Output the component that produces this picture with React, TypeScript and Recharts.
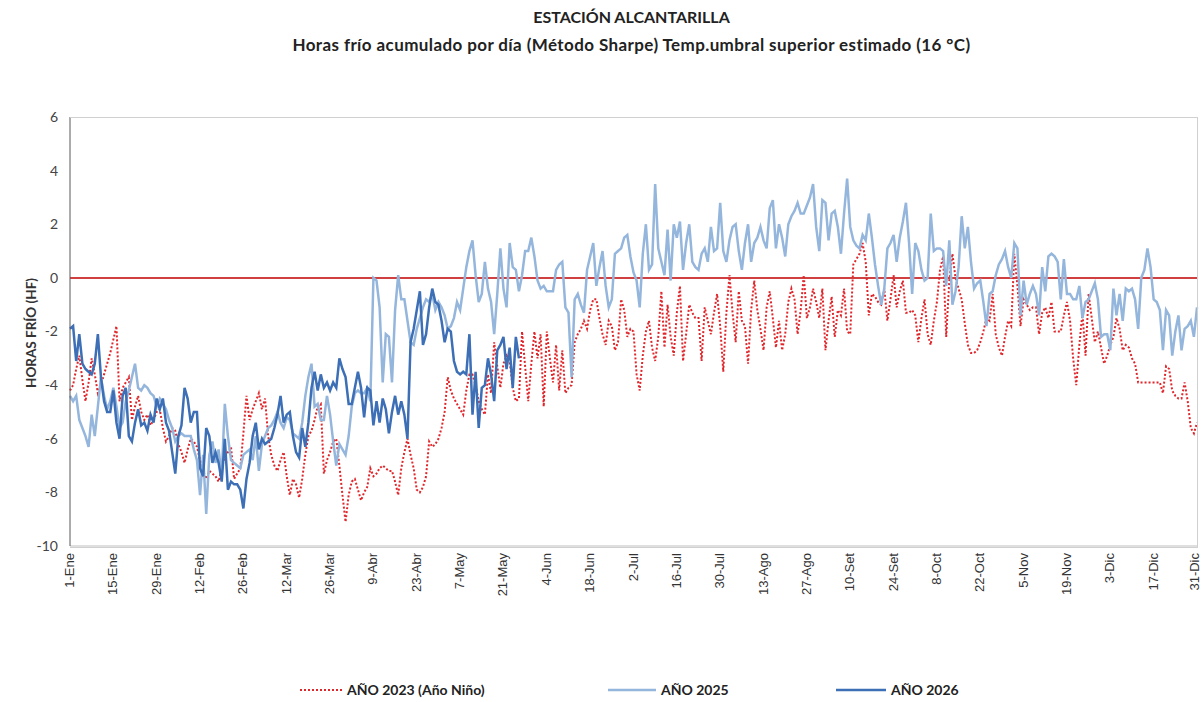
import React from "react";
import { LineChart, Line, XAxis, YAxis, ReferenceLine } from "recharts";

// etiquetas de dias (año de 365 dias)
const meses = ["Ene", "Feb", "Mar", "Abr", "May", "Jun", "Jul", "Ago", "Set", "Oct", "Nov", "Dic"];
const diasMes = [31, 28, 31, 30, 31, 30, 31, 31, 30, 31, 30, 31];
const etiquetas: string[] = meses.flatMap((m, i) =>
  Array.from({ length: diasMes[i] }, (_, d) => `${d + 1}-${m}`)
);

const yTicks = [-10, -8, -6, -4, -2, 0, 2, 4, 6];
const xTicks = [0, 14, 28, 42, 56, 70, 84, 98, 112, 126, 140, 154, 168, 182, 196, 210, 224, 238, 252, 266, 280, 294, 308, 322, 336, 350, 364];

// AÑO 2023 (Año Niño)
const anio2023 = [
  -4.2, -4.0, -3.4, -2.9, -3.8, -4.6, -3.9, -3.0, -3.6, -4.3,
  -4.0, -3.6, -3.2, -2.8, -2.3, -1.8, -4.6, -4.1, -3.9, -3.7,
  -5.3, -4.8, -4.4, -5.0, -5.3, -5.1, -5.5, -5.3, -5.0, -4.9,
  -5.6, -6.1, -5.9, -5.6, -5.7, -6.2, -6.5, -6.9, -6.4, -6.0,
  -6.1, -6.3, -6.8, -7.2, -7.5, -7.2, -7.3, -7.4, -7.6, -7.1,
  -6.7, -6.5, -6.3, -7.5, -7.3, -7.1, -5.8, -4.4, -5.3, -4.9,
  -4.6, -4.3, -4.9, -4.5, -5.9, -6.6, -7.0, -7.2, -6.8, -6.5,
  -7.4, -8.1, -7.5, -7.7, -8.2, -7.5, -6.6, -5.9, -5.7, -5.3,
  -4.8, -4.7, -7.3, -6.8, -6.5, -6.1, -6.0, -7.0, -8.1, -9.1,
  -8.1, -7.6, -7.5, -7.9, -8.3, -8.0, -7.8, -7.1, -7.4, -7.3,
  -7.1, -7.0, -7.1, -7.2, -7.2, -7.6, -8.1, -7.1, -6.5, -6.0,
  -6.6, -7.1, -7.9, -8.0, -7.8, -7.4, -6.1, -6.3, -6.2, -6.0,
  -5.6, -5.0, -3.7, -4.2, -4.5, -4.7, -4.9, -5.1, -4.2, -3.6,
  -3.6, -4.0, -4.6, -4.9, -5.1, -3.6, -4.3, -2.4, -3.3, -4.1,
  -3.2, -2.9, -3.1, -4.1, -4.6, -4.5, -2.0, -3.3, -4.6, -3.2,
  -2.0, -3.0, -2.1, -4.8, -2.0, -3.0, -3.9, -2.5, -4.2, -2.7,
  -4.3, -4.1, -4.0, -2.4, -2.1, -1.9, -1.6, -1.9, -1.2, -0.8,
  -0.8, -1.5, -2.1, -2.5, -1.6, -1.8, -2.7, -2.4, -0.8, -1.2,
  -2.2, -1.9, -2.0, -3.6, -4.2, -2.9, -2.0, -1.6, -2.6, -3.1,
  -2.2, -0.5, -2.6, -1.0, -2.2, -2.9, -1.3, -0.3, -3.1, -2.1,
  -1.0, -1.3, -1.5, -1.5, -3.1, -1.1, -1.6, -2.1, -1.3, -0.6,
  -1.8, -3.5, -1.3, 0.1, -1.3, -2.4, -0.5, -1.6, -1.8, -3.2,
  -1.2, -0.1, -1.2, -1.9, -2.7, -1.1, -0.5, -1.5, -2.6, -1.6,
  -2.7, -2.1, -0.9, -0.4, -0.8, -2.1, -1.2, 0.1, -1.5, -1.1,
  -0.4, -0.9, -1.5, -0.4, -2.7, -1.6, -0.7, -2.2, -1.2, -1.4,
  -0.4, -2.0, -2.1, 0.5, 0.7, 0.9, 1.3, 0.6, -1.4, -0.6,
  -0.7, -0.9, -1.0, -0.4, -1.6, -0.8, 0.1, -1.1, -0.5, -0.1,
  -1.3, -1.3, -1.2, -1.4, -2.4, -1.5, -0.8, -2.1, -2.5, -1.6,
  -0.9, 0.3, 0.8, -2.2, -0.1, 0.9, 0.0, -0.4, -0.8, -1.7,
  -2.5, -2.8, -2.8, -2.7, -2.4, -2.0, -1.5, -1.6, -0.6, -2.1,
  -2.6, -2.9, -2.2, -1.6, -1.8, 0.9, -0.3, -1.8, -0.8, -1.0,
  -1.2, -1.1, -1.1, -2.1, -1.3, -1.1, -1.5, -0.9, -2.0, -2.0,
  -2.0, -1.4, -0.9, -1.6, -3.0, -4.0, -2.5, -1.3, -2.9, -0.6,
  -1.5, -2.4, -2.0, -2.6, -3.2, -2.9, -2.5, -2.2, -1.5, -1.9,
  -2.7, -2.5, -2.6, -3.0, -3.2, -3.9, -3.9, -3.9, -3.9, -3.9,
  -3.9, -3.9, -3.9, -4.3, -3.3, -3.4, -4.2, -4.4, -4.5, -4.5,
  -3.9, -4.6, -5.6, -5.8, -5.4,
];

// AÑO 2025
const anio2025 = [
  -4.4, -4.6, -4.4, -5.3, -5.6, -5.9, -6.3, -5.1, -5.9, -4.8,
  -3.7, -4.4, -4.9, -4.6, -4.1, -4.8, -5.6, -5.4, -4.6, -4.2,
  -3.7, -3.2, -4.1, -4.2, -4.0, -4.1, -4.3, -4.4, -4.8, -4.5,
  -4.7, -4.9, -5.3, -5.6, -6.1, -5.9, -5.8, -5.9, -5.9, -5.9,
  -6.4, -6.8, -8.1, -6.6, -8.8, -6.6, -6.1, -6.9, -6.4, -7.4,
  -4.7, -5.9, -6.8, -6.9, -7.0, -7.1, -6.6, -6.5, -6.4, -6.8,
  -5.9, -7.2, -6.2, -5.9, -5.6, -5.5, -5.3, -5.0, -5.4, -5.6,
  -5.2, -5.3, -5.8, -5.9, -6.0, -5.4, -4.4, -3.7, -3.2, -4.8,
  -4.7, -5.3, -5.3, -4.4, -5.1, -6.1, -7.0, -6.2, -6.4, -6.6,
  -5.9, -4.8, -4.3, -4.2, -4.3, -4.3, -4.1, -4.6, 0.0, -0.1,
  -1.1, -3.9, -2.1, -2.2, -3.9, -1.2, 0.1, -0.8, -0.8, -1.6,
  -2.4, -2.5, -1.9, -1.5, -1.1, -0.8, -0.9, -0.6, -1.2, -0.9,
  -1.1, -1.4, -1.9, -1.8, -1.5, -0.9, -1.2, -0.4, 0.4, 1.0,
  1.4, 0.1, -0.9, -0.6, 0.6, -0.4, -0.9, -2.1, -0.6, 1.1,
  -0.4, -1.1, 1.3, 0.4, 0.3, -0.5, 0.1, 1.0, 1.0, 1.5,
  0.8, -0.1, -0.4, -0.3, -0.5, -0.5, -0.5, 0.3, 0.5, 0.6,
  -1.1, -1.3, -3.7, -0.8, -0.6, -1.0, -1.3, 0.3, 0.8, 1.3,
  -0.3, 0.4, 1.0, -0.3, -1.1, -0.8, 0.9, 1.0, 1.1, 1.5,
  1.6, 0.8, 0.2, -0.1, -1.1, 0.9, 2.0, 0.3, 0.5, 3.5,
  1.1, 0.6, 0.1, 1.8, -0.1, 2.0, 1.5, 2.1, 0.3, 1.3,
  2.0, 0.6, 0.4, 0.3, 0.9, 1.1, 0.6, 1.9, 1.0, 1.1,
  2.8, 1.0, 0.6, 1.4, 1.9, 2.0, 1.0, 0.3, 1.3, 2.0,
  0.6, 1.3, 1.5, 1.9, 1.4, 1.1, 2.6, 2.9, 1.1, 2.0,
  1.5, 0.8, 2.0, 2.3, 2.5, 2.8, 2.4, 2.4, 2.7, 3.0,
  3.5, 1.9, 1.0, 2.9, 2.8, 1.4, 2.4, 2.5, 1.9, 0.9,
  2.4, 3.7, 1.9, 1.4, 1.2, 1.1, 1.6, 1.4, 2.4, 1.5,
  0.5, -0.3, -1.0, -0.4, 1.1, 1.3, 1.6, 0.6, 1.5, 2.1,
  2.8, 1.3, -0.6, 1.3, 1.0, 0.3, -0.1, 0.0, 2.4, 1.0,
  1.1, 1.1, 1.0, -0.3, 1.4, -1.0, -0.5, 0.4, 2.3, 1.1,
  1.9, 0.6, -0.4, -0.2, -0.1, -0.9, -1.8, -0.6, -0.5, 0.1,
  0.5, 0.7, 1.0, 0.4, 0.0, 1.3, 1.1, -1.4, -0.1, -1.0,
  -0.6, -0.3, -0.6, -1.4, 0.4, -0.5, 0.8, 0.9, 0.8, 0.6,
  -0.8, 0.7, -0.6, -0.6, -0.8, -0.8, -0.3, -1.5, -0.9, -0.8,
  -0.5, -0.2, -0.8, -2.2, -2.1, -2.1, -2.7, -0.4, -1.4, -0.6,
  -1.6, -0.4, -0.5, -0.4, -0.8, -1.9, 0.0, 0.3, 1.1, 0.4,
  -0.8, -0.9, -1.2, -2.7, -1.2, -1.4, -2.9, -2.0, -1.4, -2.7,
  -1.9, -1.8, -1.6, -2.2, -1.1,
];

// AÑO 2026 (hasta fines de mayo)
const anio2026 = [
  -1.9, -1.8, -3.1, -2.1, -3.2, -3.4, -3.5, -3.6, -3.2, -2.1,
  -3.7, -4.6, -5.0, -5.0, -4.2, -5.4, -6.0, -4.4, -4.1, -5.9,
  -6.1, -5.4, -4.9, -5.5, -5.4, -5.7, -5.1, -5.4, -4.5, -4.9,
  -4.5, -5.4, -5.7, -6.5, -7.3, -5.9, -5.5, -4.1, -4.5, -5.4,
  -5.0, -5.0, -7.1, -7.4, -5.6, -5.9, -6.9, -6.5, -6.9, -7.6,
  -6.0, -7.9, -7.6, -7.7, -7.7, -7.9, -8.6, -7.5, -6.9, -5.9,
  -5.4, -6.4, -6.0, -6.2, -6.1, -6.0, -5.6, -5.1, -4.4, -5.4,
  -5.1, -5.0, -5.9, -6.5, -6.7, -5.6, -6.3, -5.4, -4.1, -3.5,
  -4.2, -3.6, -4.1, -3.9, -4.2, -3.9, -4.1, -3.0, -3.4, -3.7,
  -4.7, -4.7, -4.1, -3.5, -4.1, -5.2, -4.1, -4.2, -5.5, -4.6,
  -5.4, -4.5, -4.9, -5.8, -5.0, -4.4, -5.1, -4.6, -5.1, -6.0,
  -2.4, -1.9, -1.2, -0.5, -2.5, -2.1, -1.1, -0.4, -0.9, -1.0,
  -1.6, -2.4, -1.9, -2.0, -3.1, -3.5, -3.6, -3.5, -3.6, -2.1,
  -5.1, -3.5, -5.6, -4.1, -4.0, -3.0, -3.6, -4.6, -2.7, -2.5,
  -2.2, -3.4, -2.6, -4.1, -2.2, -3.0,
];

const data = etiquetas.map((label, i) => ({
  dia: i,
  label,
  a2023: anio2023[i] ?? null,
  a2025: anio2025[i] ?? null,
  a2026: anio2026[i] ?? null,
}));

const ROJO = "#e0262b";
const CELESTE = "#95b6dc";
const AZUL = "#3d6fb6";

const TickX = ({ x, y, payload }: any) => {
  const tx = payload.value === 364 ? x + 2 : x + 4;
  return (
    <text
      x={tx}
      y={y - 1}
      transform={`rotate(-90 ${tx} ${y - 1})`}
      textAnchor="end"
      fontSize={13}
      fontFamily="Liberation Sans, Arial, sans-serif"
      fill="#333"
    >
      {etiquetas[payload.value]}
    </text>
  );
};

const LegendItem = ({ color, dashed, text, left, lineW }: any) => (
  <div style={{ position: "absolute", left, top: 681, display: "flex", alignItems: "center" }}>
    <svg width={lineW} height={10} style={{ marginRight: 5 }}>
      <line
        x1={0}
        x2={lineW}
        y1={5}
        y2={5}
        stroke={color}
        strokeWidth={dashed ? 2 : 2.5}
        strokeDasharray={dashed ? "2 2" : undefined}
      />
    </svg>
    <span style={{ fontSize: 14, fontWeight: 700, color: "#222" }}>{text}</span>
  </div>
);

export default function App() {
  return (
    <div
      style={{
        position: "absolute",
        left: 0,
        top: 0,
        width: 1203,
        height: 702,
        background: "#fff",
        fontFamily: "Lato, 'Open Sans', sans-serif",
      }}
    >
      <div style={{ position: "absolute", top: 7, width: 1263, textAlign: "center", fontSize: 16, fontWeight: 700, color: "#222" }}>
        ESTACIÓN ALCANTARILLA
      </div>
      <div
        style={{
          position: "absolute",
          top: 34,
          width: 1263,
          textAlign: "center",
          fontSize: 17,
          letterSpacing: 0.4,
          fontWeight: 700,
          color: "#222",
        }}
      >
        Horas frío acumulado por día (Método Sharpe) Temp.umbral superior estimado (16 °C)
      </div>
      <div
        style={{
          position: "absolute",
          left: 31,
          top: 333,
          transform: "translate(-50%, -50%) rotate(-90deg)",
          whiteSpace: "nowrap",
          fontSize: 13.5,
          fontWeight: 700,
          color: "#333",
        }}
      >
        HORAS FRÍO (HF)
      </div>

      <LineChart
        width={1203}
        height={702}
        data={data}
        margin={{ top: 117, right: 6, bottom: 96, left: 20 }}
      >
        <XAxis
          dataKey="dia"
          type="number"
          domain={[0, 364]}
          ticks={xTicks}
          interval={0}
          height={60}
          axisLine={{ stroke: "#bfbfbf" }}
          tickLine={false}
          tick={<TickX />}
        />
        <YAxis
          domain={[-10, 6]}
          ticks={yTicks}
          width={50}
          axisLine={{ stroke: "#595959" }}
          tickLine={false}
          tickSize={0}
          tickMargin={12}
          tick={{ fontSize: 14, fill: "#444", fontFamily: "Lato, sans-serif" }}
        />
        <ReferenceLine y={0} stroke="#c00000" strokeWidth={1.5} />
        <Line
          dataKey="a2023"
          stroke={ROJO}
          strokeWidth={2}
          strokeDasharray="2 2"
          dot={false}
          isAnimationActive={false}
          type="linear"
        />
        <Line dataKey="a2025" stroke={CELESTE} strokeWidth={2.5} dot={false} isAnimationActive={false} type="linear" />
        <Line dataKey="a2026" stroke={AZUL} strokeWidth={2.5} dot={false} isAnimationActive={false} type="linear" />
      </LineChart>

      <div
        style={{
          position: "absolute",
          left: 70,
          top: 117,
          width: 1127,
          height: 429,
          border: "1px solid #d0d0d0",
          borderLeft: "none",
          pointerEvents: "none",
        }}
      />

      <LegendItem color={ROJO} dashed text="AÑO 2023 (Año Niño)" left={300} lineW={42} />
      <LegendItem color={CELESTE} text="AÑO 2025" left={608} lineW={48} />
      <LegendItem color={AZUL} text="AÑO 2026" left={836} lineW={50} />
    </div>
  );
}
